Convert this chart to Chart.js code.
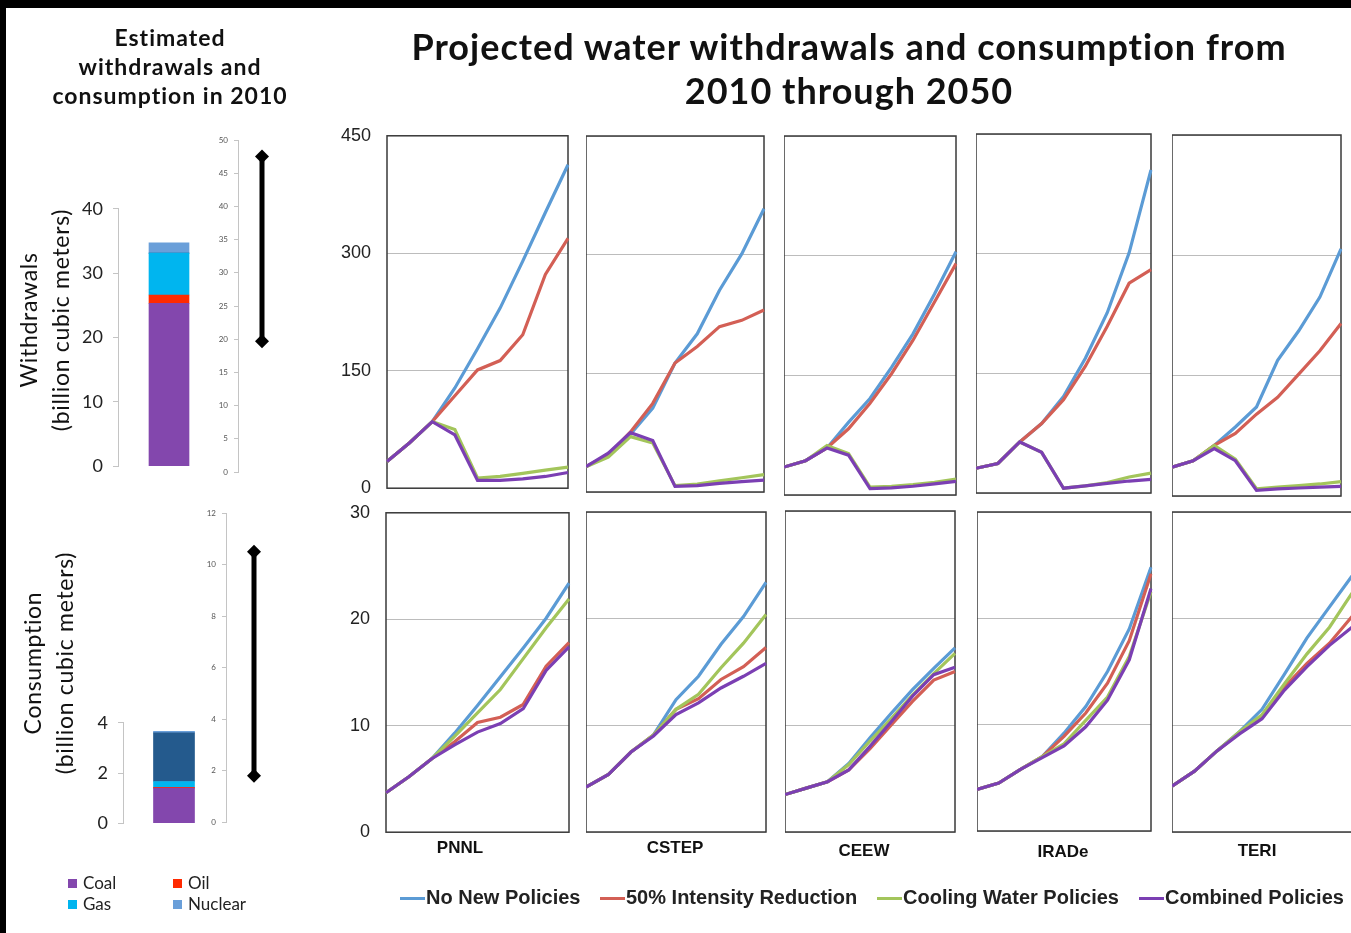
<!DOCTYPE html>
<html>
<head>
<meta charset="utf-8">
<script src="https://cdn.jsdelivr.net/npm/chart.js"></script>
<style>
  body { margin: 0; width: 1351px; height: 933px; background: #000; overflow: hidden; position: relative; font-family: Lato, sans-serif; }
  #sheet { position: absolute; left: 6px; top: 8px; width: 1345px; height: 925px; background: #fff; }
  canvas, .txt { position: absolute; }
  .txt { color: #111; white-space: nowrap; }
  .title { font-weight: bold; text-align: center; }
  .rot { transform: rotate(-90deg); text-align: center; font-size: 23px; letter-spacing: 0.7px; line-height: 32px; color: #111; }
  .panelName { font-family: "Liberation Sans", Arial, sans-serif; font-weight: bold; font-size: 17px; transform: translateX(-50%); }
  .leg { font-family: "Liberation Sans", Arial, sans-serif; font-weight: bold; font-size: 20px; color: #222; }
  .legLine { position: absolute; height: 3px; width: 25px; }
  .fuel { font-size: 17px; color: #222; }
  .sq { position: absolute; width: 9px; height: 9px; }
</style>
</head>
<body>
<div id="sheet"></div>
<script>
// ---- data ----
const years = ['2010', '2015', '2020', '2025', '2030', '2035', '2040', '2045', '2050'];
const models = ['PNNL', 'CSTEP', 'CEEW', 'IRADe', 'TERI'];
const policies = ['No New Policies', '50% Intensity Reduction', 'Cooling Water Policies', 'Combined Policies'];
const policyColors = ['#5b9bd5', '#d35f55', '#a3c55b', '#7b3fb3'];

// withdrawals, billion m3: [no new, 50% intensity, cooling water, combined]
const withdrawPNNL = [
  [34, 58, 85, 128, 178, 230, 290, 352, 413],
  [34, 58, 85, 118, 151, 163, 196, 273, 319],
  [34, 58, 85, 75, 13, 15, 19, 23, 27],
  [34, 58, 85, 68, 10, 10, 12, 15, 20]
];
const withdrawCSTEP = [
  [32, 47, 73, 106, 163, 200, 255, 301, 358],
  [32, 47, 76, 112, 163, 184, 209, 217, 230],
  [32, 44, 70, 62, 8, 10, 14, 18, 22],
  [32, 49, 75, 65, 7, 8, 11, 13, 15]
];
const withdrawCEEW = [
  [35, 43, 59, 91, 121, 160, 202, 252, 305],
  [35, 43, 59, 83, 115, 152, 194, 242, 290],
  [35, 43, 62, 52, 10, 11, 13, 16, 20],
  [35, 43, 59, 50, 8, 9, 11, 14, 17]
];
const withdrawIRADe = [
  [31, 37, 64, 87, 121, 169, 226, 301, 405],
  [31, 37, 64, 87, 117, 159, 209, 263, 280],
  [31, 37, 64, 51, 6, 9, 13, 20, 25],
  [31, 37, 64, 51, 6, 9, 12, 15, 17]
];
const withdrawTERI = [
  [36, 44, 63, 86, 111, 169, 206, 248, 308],
  [36, 44, 63, 78, 102, 123, 152, 181, 215],
  [36, 44, 63, 46, 9, 11, 13, 15, 18],
  [36, 44, 59, 44, 7, 9, 10, 11, 12]
];

// consumption, billion m3
const consumePNNL = [
  [3.7, 5.2, 6.9, 9.3, 11.9, 14.6, 17.3, 20.1, 23.4],
  [3.7, 5.2, 6.9, 8.5, 10.3, 10.8, 12.0, 15.6, 17.8],
  [3.7, 5.2, 6.9, 9.0, 11.2, 13.4, 16.3, 19.2, 21.9],
  [3.7, 5.2, 6.9, 8.2, 9.4, 10.2, 11.6, 15.2, 17.4]
];
const consumeCSTEP = [
  [4.2, 5.4, 7.5, 9.1, 12.4, 14.6, 17.6, 20.2, 23.4],
  [4.2, 5.4, 7.5, 9.1, 11.5, 12.5, 14.3, 15.5, 17.3],
  [4.2, 5.4, 7.5, 9.1, 11.5, 12.9, 15.4, 17.7, 20.4],
  [4.2, 5.4, 7.5, 9.0, 11.0, 12.1, 13.5, 14.6, 15.8]
];
const consumeCEEW = [
  [3.5, 4.1, 4.7, 6.4, 8.8, 11.1, 13.3, 15.3, 17.2],
  [3.5, 4.1, 4.7, 5.8, 7.8, 10.0, 12.2, 14.2, 15.0],
  [3.5, 4.1, 4.7, 6.3, 8.5, 10.6, 12.8, 14.8, 16.7],
  [3.5, 4.1, 4.7, 5.8, 8.0, 10.3, 12.7, 14.7, 15.4]
];
const consumeIRADe = [
  [3.9, 4.5, 5.8, 7.0, 9.2, 11.7, 15.0, 19.0, 24.8],
  [3.9, 4.5, 5.8, 7.0, 8.9, 11.1, 13.9, 17.9, 24.2],
  [3.9, 4.5, 5.8, 7.0, 8.2, 10.4, 12.6, 16.4, 22.5],
  [3.9, 4.5, 5.8, 6.9, 8.0, 9.8, 12.3, 16.1, 22.8]
];
const consumeTERI = [
  [4.3, 5.7, 7.6, 9.4, 11.5, 14.8, 18.2, 21.1, 24.0],
  [4.3, 5.7, 7.6, 9.3, 10.8, 13.6, 15.8, 17.7, 20.2],
  [4.3, 5.7, 7.6, 9.4, 11.0, 13.9, 16.7, 19.2, 22.4],
  [4.3, 5.7, 7.6, 9.2, 10.6, 13.3, 15.5, 17.5, 19.2]
];

// 2010 estimates by fuel
const fuels = ['Coal', 'Oil', 'Gas', 'Other', 'Nuclear'];
const fuelColors = ['#8347ad', '#ff2a00', '#00b5ef', '#245a8d', '#6a9fd9'];
const withdraw2010 = [25.3, 1.3, 6.5, 0, 1.6];
const consume2010 = [1.40, 0.03, 0.23, 1.94, 0.06];
const withdrawRange = [19.7, 47.5];
const consumeRange = [1.8, 10.5];
const withdrawTicks = [0, 5, 10, 15, 20, 25, 30, 35, 40, 45, 50];
const consumeTicks = [0, 2, 4, 6, 8, 10, 12];

// ---- helpers ----
Chart.defaults.font.family = 'Lato, sans-serif';
Chart.defaults.animation = false;
Chart.defaults.responsive = false;
Chart.defaults.maintainAspectRatio = false;
Chart.defaults.devicePixelRatio = 1;
Chart.defaults.plugins.legend.display = false;
Chart.defaults.plugins.tooltip.enabled = false;

function addCanvas(x, y, w, h) {
  const c = document.createElement('canvas');
  c.width = Math.round(w); c.height = Math.round(h);
  c.style.left = x + 'px'; c.style.top = y + 'px';
  c.style.width = Math.round(w) + 'px'; c.style.height = Math.round(h) + 'px';
  document.body.appendChild(c);
  return c;
}
function addText(html, x, y, cls, style) {
  const d = document.createElement('div');
  d.className = 'txt ' + (cls || '');
  d.innerHTML = html;
  d.style.left = x + 'px'; d.style.top = y + 'px';
  if (style) d.style.cssText += style;
  document.body.appendChild(d);
  return d;
}
// move/resize the canvas so that the chart area lands on the page box L,T,R,B
function pin(chart, L, T, R, B) {
  const c = chart.canvas;
  for (let k = 0; k < 4; k++) {
    const a = chart.chartArea;
    const x0 = parseFloat(c.style.left), y0 = parseFloat(c.style.top);
    const dl = L - (x0 + a.left), dt = T - (y0 + a.top);
    const dr = R - (x0 + a.right), db = B - (y0 + a.bottom);
    if (Math.abs(dl) + Math.abs(dt) + Math.abs(dr) + Math.abs(db) < 1) break;
    chart.resize(Math.round(chart.width + dr - dl), Math.round(chart.height + db - dt));
    c.style.left = (x0 + dl) + 'px';
    c.style.top = (y0 + dt) + 'px';
  }
}

const boxPlugin = {
  id: 'box',
  beforeDatasetsDraw(chart) {
    const a = chart.chartArea, ctx = chart.ctx;
    ctx.save();
    ctx.strokeStyle = '#3a3a3a';
    ctx.lineWidth = 1.5;
    ctx.strokeRect(a.left, a.top, a.right - a.left, a.bottom - a.top);
    ctx.restore();
  }
};

// box = [left, right, top, bottom] of the plot frame
function panel(box, series, yMax, step, showTicks) {
  const [l, r, t, b] = box;
  const yW = showTicks ? 60 : 0;
  const pad = { top: 12, bottom: 12, left: 0, right: 4 };
  const c = addCanvas(l - yW, t - pad.top, r - l + yW + pad.right, b - t + pad.top + pad.bottom);
  const chart = new Chart(c, {
    type: 'line',
    data: {
      labels: years,
      datasets: series.map((d, i) => ({
        label: policies[i], data: d, borderColor: policyColors[i],
        borderWidth: 3.2, pointRadius: 0, tension: 0, order: 3 - i
      }))
    },
    options: {
      layout: { padding: pad },
      scales: {
        x: { display: false },
        y: {
          min: 0, max: yMax,
          afterFit: s => { s.width = yW; },
          border: { display: false },
          grid: { color: '#bcbcbc', lineWidth: 1, drawTicks: false },
          ticks: { display: showTicks, stepSize: step, padding: 16, color: '#222',
                   font: { family: '"Liberation Sans", Arial', size: 18 } }
        }
      }
    },
    plugins: [boxPlugin]
  });
  pin(chart, l, t, r, b);
}

const topBoxes = [[387, 568, 136, 488], [586, 764, 136, 492], [784, 956, 136, 495], [976, 1151, 134, 493], [1172, 1341, 135, 496]];
const botBoxes = [[386, 569, 513, 832], [586, 766, 512, 832], [785, 955, 511, 832], [977, 1151, 512, 831], [1172, 1352, 512, 832]];
const topSeries = [withdrawPNNL, withdrawCSTEP, withdrawCEEW, withdrawIRADe, withdrawTERI];
const botSeries = [consumePNNL, consumeCSTEP, consumeCEEW, consumeIRADe, consumeTERI];
models.forEach((m, i) => {
  panel(topBoxes[i], topSeries[i], 450, 150, i === 0);
  panel(botBoxes[i], botSeries[i], 30, 10, i === 0);
});
const nameX = [460, 675, 864, 1063, 1257];
const nameY = [838, 838, 841, 842, 841];
models.forEach((m, i) => addText(m, nameX[i], nameY[i], 'panelName'));

// stacked bar for 2010
function fuelBar(L, R, T, B, maxV, step, values, barPx) {
  const yW = 58, pad = 12;
  const c = addCanvas(L - yW, T - pad, yW + R - L, B - T + 2 * pad);
  const chart = new Chart(c, {
    type: 'bar',
    data: {
      labels: ['2010'],
      datasets: fuels.map((f, i) => ({
        label: f, data: [values[i]], backgroundColor: fuelColors[i],
        barThickness: barPx, borderWidth: 0
      }))
    },
    options: {
      layout: { padding: { top: pad, bottom: pad, left: 0, right: 0 } },
      scales: {
        x: { display: false, stacked: true },
        y: {
          stacked: true, min: 0, max: maxV,
          afterFit: s => { s.width = yW; },
          border: { display: true, color: '#c4c4c4', width: 1 },
          grid: { drawOnChartArea: false, drawTicks: true, tickLength: 5, color: '#c4c4c4' },
          ticks: { stepSize: step, padding: 10, color: '#222', font: { size: 18 } }
        }
      }
    }
  });
  pin(chart, L, T, R, B);
}
fuelBar(118, 220, 209, 466, 40, 10, withdraw2010, 40);
fuelBar(123, 225, 723, 823, 4, 2, consume2010, 41);

// range of projected values, drawn against a second axis
function rangeBar(L, R, T, B, ticks, range) {
  const yW = 40, pad = 12;
  const c = addCanvas(L - yW, T - pad, yW + R - L, B - T + 2 * pad);
  const chart = new Chart(c, {
    type: 'scatter',
    data: {
      datasets: [{
        data: range.map(v => ({ x: 0, y: v })), showLine: true,
        borderColor: '#000', borderWidth: 5, backgroundColor: '#000',
        pointStyle: 'rectRot', pointRadius: 7, pointBorderWidth: 0
      }]
    },
    options: {
      layout: { padding: { top: pad, bottom: pad, left: 0, right: 0 } },
      scales: {
        x: { display: false, min: -1, max: 1 },
        y: {
          min: ticks[0], max: ticks[ticks.length - 1],
          afterFit: s => { s.width = yW; },
          afterBuildTicks: s => { s.ticks = ticks.map(v => ({ value: v })); },
          border: { display: true, color: '#c4c4c4', width: 1 },
          grid: { drawOnChartArea: false, drawTicks: true, tickLength: 4, color: '#c4c4c4' },
          ticks: { padding: 6, color: '#555', font: { size: 8 } }
        }
      }
    }
  });
  pin(chart, L, T, R, B);
}
rangeBar(238, 286, 140, 472, withdrawTicks, withdrawRange);
rangeBar(226, 282, 513, 822, consumeTicks, consumeRange);

// ---- text ----
addText('Projected water withdrawals and consumption from<br>2010 through 2050', 349, 24, 'title',
  'width:1000px;font-size:36px;letter-spacing:1px;line-height:44px;');
addText('Estimated<br>withdrawals and<br>consumption in 2010', 20, 23, 'title',
  'width:300px;font-size:23px;letter-spacing:1px;line-height:29px;');
addText('Withdrawals<br>(billion cubic meters)', 44 - 150, 320 - 32, 'rot', 'width:300px;');
addText('Consumption<br>(billion cubic meters)', 48 - 150, 663 - 32, 'rot', 'width:300px;');

// fuel legend
const fuelLeg = [[0, 68, 879], [1, 173, 879], [2, 68, 900], [4, 173, 900]];
fuelLeg.forEach(([i, x, y]) => {
  const s = document.createElement('div');
  s.className = 'sq'; s.style.left = x + 'px'; s.style.top = y + 'px';
  s.style.background = fuelColors[i];
  document.body.appendChild(s);
  addText(fuels[i], x + 15, y - 7, 'fuel');
});

// policy legend
const legX = [400, 600, 877, 1139];
policies.forEach((p, i) => {
  const l = document.createElement('div');
  l.className = 'legLine'; l.style.left = legX[i] + 'px'; l.style.top = '897px';
  l.style.background = policyColors[i];
  document.body.appendChild(l);
  addText(p, legX[i] + 26, 886, 'leg');
});
</script>
</body>
</html>
